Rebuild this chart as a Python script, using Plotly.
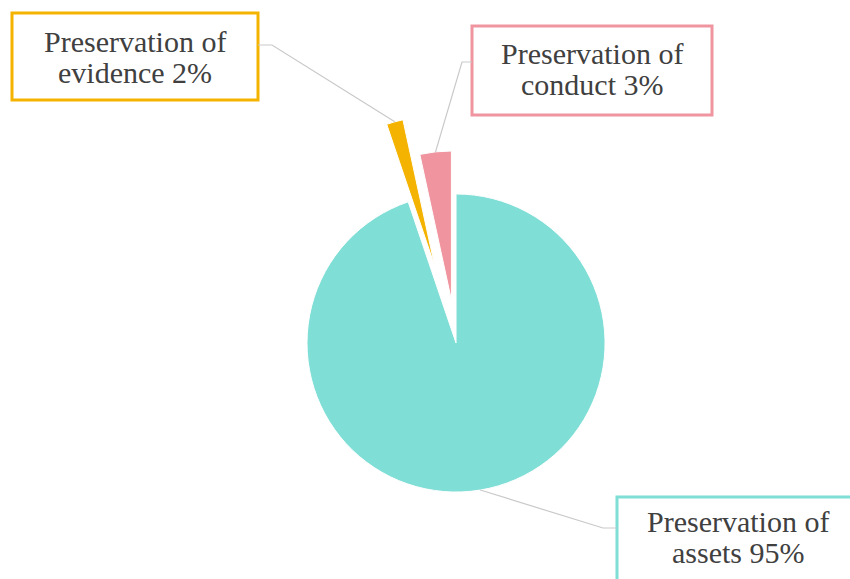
import numpy as np
import plotly.graph_objects as go

# ---- data ----
categories = ["Preservation of assets", "Preservation of evidence", "Preservation of conduct"]
values = [94.8, 1.8, 3.4]
label_line1 = ["Preservation of", "Preservation of", "Preservation of"]
label_line2 = ["assets 95%", "evidence 2%", "conduct 3%"]
pulls = [0.0, 0.54, 0.29]

# ---- style / layout ----
W, H = 850, 579
colors = ["#7FDED6", "#F5B301", "#F0959F"]
text_color = "#404040"
font_family = "Liberation Serif"
font_size = 30
dom_x = [0.2665, 0.8065]
dom_y = [0.0112, 0.804]

fig = go.Figure()
fig.add_trace(go.Pie(
    labels=categories, values=values, pull=pulls, sort=False,
    direction="clockwise", rotation=0,
    marker=dict(colors=colors, line=dict(color="white", width=1)),
    textinfo="none", hoverinfo="label+percent", showlegend=False,
    domain=dict(x=dom_x, y=dom_y),
))

# pie geometry (same as plotly's layout of a pie)
box_w = W * (dom_x[1] - dom_x[0])
box_h = H * (dom_y[1] - dom_y[0])
r = min(box_w, box_h) / (2 + 2 * max(pulls))
cx = W * (dom_x[0] + dom_x[1]) / 2
cy = H * (1 - (dom_y[0] + dom_y[1]) / 2)
fracs = np.array(values, dtype=float) / sum(values)
starts = np.concatenate([[0], np.cumsum(fracs)[:-1]])
mids = (starts + fracs / 2) * 2 * np.pi  # clockwise from 12 o'clock
tips = [(cx + r * (1 + p) * np.sin(a), cy - r * (1 + p) * np.cos(a)) for a, p in zip(mids, pulls)]

def px(x, y):
    return x / W, 1 - y / H

# label boxes (pixel coords)
boxes = [
    dict(rect=(617, 497, 880, 600), tx=738, ty=(521.5, 552.5), start=(617, 528), elbow=(603, 528)),
    dict(rect=(12, 13, 258, 100), tx=135, ty=(41.5, 72.5), start=(258, 45), elbow=(272, 45)),
    dict(rect=(472, 26, 712, 115), tx=592, ty=(53.5, 84.5), start=(472, 62), elbow=(462, 62)),
]

shapes = []
annotations = []
for i, b in enumerate(boxes):
    x0, y0, x1, y1 = b["rect"]
    ax0, ay0 = px(x0, y0)
    ax1, ay1 = px(x1, y1)
    shapes.append(dict(type="rect", xref="paper", yref="paper", x0=ax0, y0=ay1, x1=ax1, y1=ay0,
                       line=dict(color=colors[i], width=3), fillcolor="white", layer="above"))
    pts = [b["start"], b["elbow"], tips[i]]
    path = "M " + " L ".join(f"{px(x, y)[0]:.5f},{px(x, y)[1]:.5f}" for x, y in pts)
    shapes.append(dict(type="path", xref="paper", yref="paper", path=path,
                       line=dict(color="#C9C9C9", width=1.2), layer="above"))
    for txt, yy in zip([label_line1[i], label_line2[i]], b["ty"]):
        xx, yp = px(b["tx"], yy)
        annotations.append(dict(text=txt, x=xx, y=yp, xref="paper", yref="paper",
                                xanchor="center", yanchor="middle", showarrow=False,
                                font=dict(family=font_family, size=font_size, color=text_color)))

fig.update_layout(
    width=W, height=H, margin=dict(l=0, r=0, t=0, b=0),
    paper_bgcolor="white", plot_bgcolor="white",
    shapes=shapes, annotations=annotations,
)
fig.write_html("out.html")
